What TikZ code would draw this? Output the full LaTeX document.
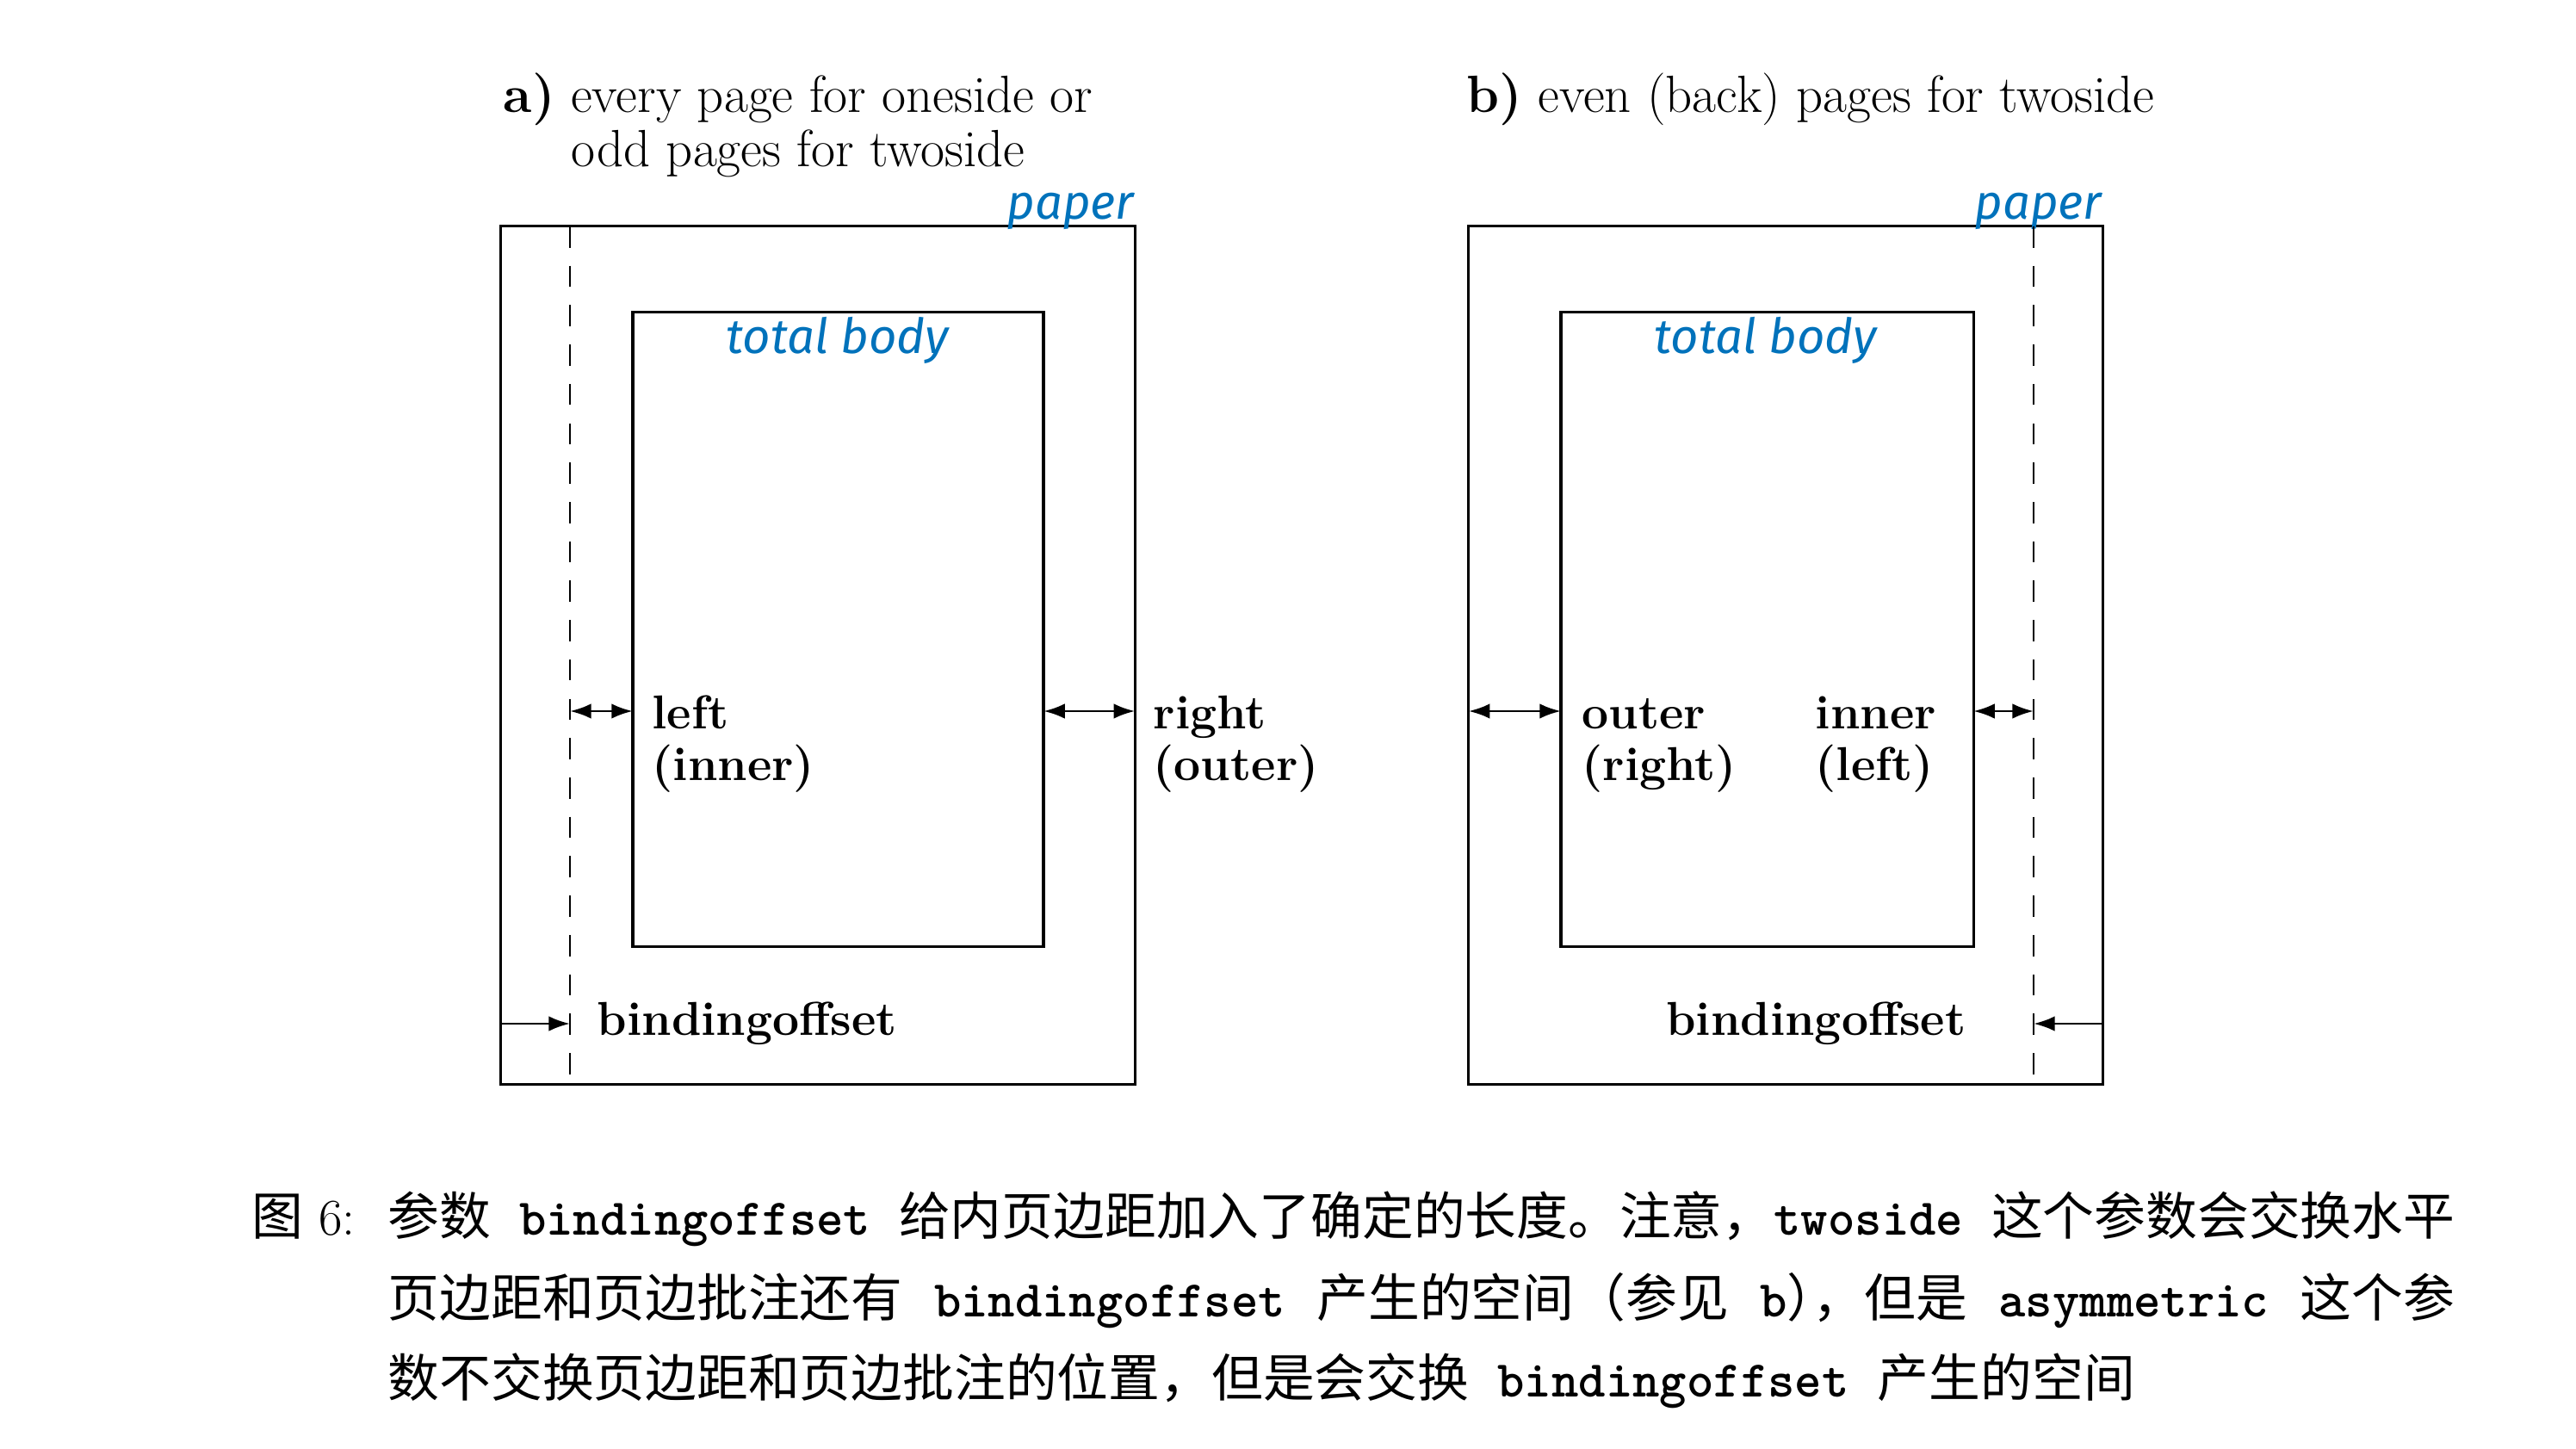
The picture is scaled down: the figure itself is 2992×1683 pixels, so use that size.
\documentclass[tikz,border=0pt]{standalone}
\usepackage{fontspec}
\newfontfamily\cjk{Noto Sans CJK SC}
\newfontfamily\bluesans{Fira Sans}
\newfontfamily\bmono{lmmonolt10-bold}[Extension=.otf]
\usetikzlibrary{arrows.meta}
\definecolor{labelblue}{RGB}{0,114,187}
\newcommand\gap{\hskip 9.5pt plus 1fil minus 6pt}
\begin{document}
\begin{tikzpicture}[x=0.01cm,y=-0.01cm,
  box/.style={draw, line width=0.95pt, inner sep=0pt, outer sep=0pt},
  dashline/.style={line width=0.8pt, dash pattern=on 7pt off 6pt},
  arr/.style={line width=0.85pt, -{Latex[length=7pt,width=5pt]}},
  darr/.style={line width=0.85pt, {Latex[length=7pt,width=5pt]}-{Latex[length=7pt,width=5pt]}},
  ttl/.style={anchor=base, inner sep=0pt, font=\fontsize{17.3pt}{19pt}\selectfont},
  lbl/.style={anchor=base west, inner sep=0pt, font=\fontsize{15.7pt}{18pt}\selectfont\bfseries},
  bluelbl/.style={inner sep=0pt, text=labelblue, font=\bluesans\itshape\fontsize{16pt}{18pt}\selectfont},
  captxt/.style={anchor=base west, inner sep=0pt, font=\fontsize{17pt}{20pt}\selectfont}]
\useasboundingbox (0,0) rectangle (2992,1683);

% titles
\node[ttl] (ta1) at (927,131) {\textbf{a)} every page for oneside or};
\node[ttl] (ta2) at (927,194) {odd pages for twoside};
\node[ttl] (tb) at (2103,131) {\textbf{b)} even (back) pages for twoside};

% boxes
\node[box, minimum width=7.36cm, minimum height=9.96cm] (paperA) at (950,761) {};
\node[box, minimum width=4.77cm, minimum height=7.36cm] (bodyA) at (973.5,731) {};
\node[box, minimum width=7.36cm, minimum height=9.96cm] (paperB) at (2074,761) {};
\node[box, minimum width=4.79cm, minimum height=7.36cm] (bodyB) at (2052.5,731) {};

\node[bluelbl, anchor=east] (papA) at (1318,245) {paper};
\node[bluelbl, anchor=east] (papB) at (2442,245) {paper};
\node[bluelbl] (tbA) at (973,395) {total body};
\node[bluelbl] (tbB) at (2051,395) {total body};

% labels
\node[lbl] (leftA) at (757,847) {left};
\node[lbl] (innerA) at (757,907) {(inner)};
\node[lbl] (rightA) at (1339,847) {right};
\node[lbl] (outerA) at (1339,907) {(outer)};
\node[lbl] (bindA) at (693,1202) {bindingoffset};
\node[lbl] (outerB) at (1837,847) {outer};
\node[lbl] (rightB) at (1837,907) {(right)};
\node[lbl] (innerB) at (2108,847) {inner};
\node[lbl] (leftB) at (2108,907) {(left)};
\node[lbl, anchor=base east] (bindB) at (2284,1202) {bindingoffset};

% coordinates
\coordinate (dAt) at (662,263); \coordinate (dAb) at (662,1259);
\coordinate (dBt) at (2362,263); \coordinate (dBb) at (2362,1259);
\coordinate (yM) at (0,826); \coordinate (yB) at (0,1189);

% dashed binding lines
\draw[dashline] (dAt) -- (dAb);
\draw[dashline] (dBt) -- (dBb);

% arrows a
\draw[darr] (dAt |- yM) -- (bodyA.west |- yM);
\draw[darr] (bodyA.east |- yM) -- (paperA.east |- yM);
\draw[arr] (paperA.west |- yB) -- (dAt |- yB);
% arrows b
\draw[darr] (paperB.west |- yM) -- (bodyB.west |- yM);
\draw[darr] (bodyB.east |- yM) -- (dBt |- yM);
\draw[arr] (paperB.east |- yB) -- (dBt |- yB);

% caption
\node[captxt] (fig) at (292,1434) {{\cjk 图}\hspace{5pt}6:};
\node[captxt] (c1) at (450,1434) {\hbox to 682.6pt{\cjk 参数\gap{\bmono bindingoffset}\gap 给内页边距加入了确定的长度。注意，{\bmono twoside}\gap 这个参数会交换水平}};
\node[captxt] (c2) at (450,1529) {\hbox to 682.6pt{\cjk 页边距和页边批注还有\gap{\bmono bindingoffset}\gap 产生的空间（参见\gap{\bmono b}\makebox[0.5em][l]{）}，但是\gap{\bmono asymmetric}\gap 这个参}};
\node[captxt] (c3) at (450,1622) {\cjk 数不交换页边距和页边批注的位置，但是会交换\gap{\bmono bindingoffset}\gap 产生的空间};
\end{tikzpicture}
\end{document}
